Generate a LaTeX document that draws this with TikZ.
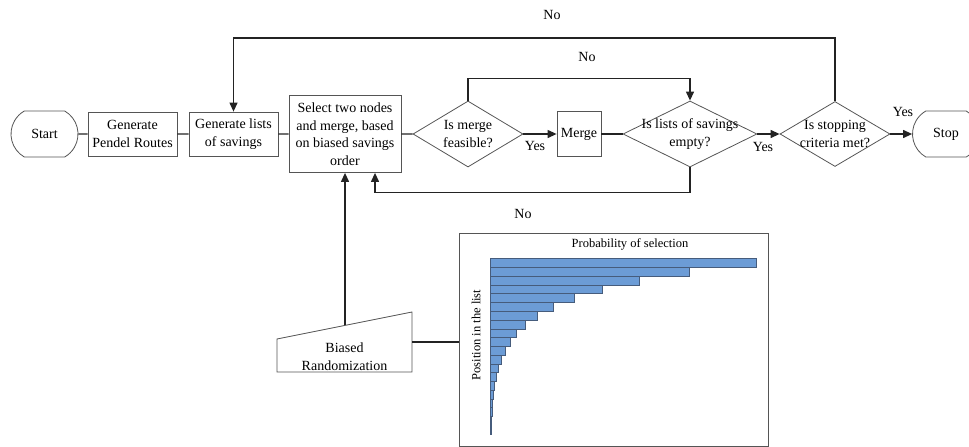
\documentclass[tikz,border=0pt]{standalone}
\usepackage{fontspec}
\setmainfont{Liberation Serif}
\usetikzlibrary{arrows.meta,shapes.geometric,shapes.misc,calc}
\definecolor{barfill}{RGB}{108,156,214}
\definecolor{baredge}{RGB}{70,92,124}
\definecolor{linegray}{RGB}{35,35,35}
\definecolor{boxgray}{RGB}{85,85,85}
\begin{document}
\begin{tikzpicture}[x=1pt,y=-1pt,>={Triangle[length=9pt,width=8pt]},font=\fontsize{14}{17.5}\selectfont,
    box/.style={draw=boxgray,line width=0.8pt,align=center,inner sep=0pt},
    term/.style={draw=boxgray,line width=0.8pt,rounded rectangle,rounded rectangle arc length=120,minimum width=67pt,minimum height=46pt,inner sep=0pt},
    decision/.style={draw=boxgray,line width=0.8pt,diamond,inner sep=0pt},
    flow/.style={draw=linegray,line width=1.2pt},
    lbl/.style={align=center,inner sep=0pt}]
    \useasboundingbox (0,0) rectangle (969,447);
    \clip (0,0) rectangle (969,447);

    % main line
    \node[term] (start) at (44.5,134) {Start};
    \node[box,minimum width=89pt,minimum height=44pt] (pendel) at (132.5,134) {Generate\\Pendel Routes};
    \node[box,minimum width=89pt,minimum height=44pt] (lists) at (233.5,134) {Generate lists\\of savings};
    \node[box,minimum width=112pt,minimum height=77pt] (sel) at (345,134) {Select two nodes\\and merge, based\\on biased savings\\order};
    \node[decision,minimum width=110pt,minimum height=66pt] (d1) at (468,134) {};
    \node[lbl] (d1t) at (d1) {Is merge\\feasible?};
    \node[box,minimum width=44pt,minimum height=45pt] (merge) at (579,134) {Merge};
    \node[decision,minimum width=134pt,minimum height=66pt] (d2) at (690,134) {};
    \node[lbl] (d2t) at (d2) {Is lists of savings\\empty?};
    \node[decision,minimum width=110pt,minimum height=65pt] (d3) at (835,134) {};
    \node[lbl] (d3t) at (d3) {Is stopping\\criteria met?};
    \node[term] (stop) at (946,134) {Stop};

    \draw[flow] (start) -- (pendel) -- (lists) -- (sel) -- (d1);
    \draw[flow,->] (d1) -- (merge);
    \draw[flow] (merge) -- (d2);
    \draw[flow,->] (d2) -- (d3);
    \draw[flow,->] (d3) -- (stop);

    % loops
    \coordinate (topy) at (0,38);
    \draw[flow,->] (d3.north) -- (d3.north |- topy) -| (lists.north);
    \draw[flow,->] (d1.north) -- ++(0,-22) -| (d2.north);
    \draw[flow,->] (d2.south) -- ++(0,25) -| ($(sel.south)+(30,0)$);

    \node[lbl] (no1) at (552,15) {No};
    \node[lbl] (no2) at (587,57) {No};
    \node[lbl] (no3) at (523,214) {No};
    \node[lbl] (yes1) at (535,146) {Yes};
    \node[lbl] (yes2) at (763,147) {Yes};
    \node[lbl] (yes3) at (903,112) {Yes};

    % biased randomization
    \draw[draw=boxgray,line width=0.8pt] (277,339) -- (412,312) -- (412,372) -- (277,372) -- cycle;
    \node[lbl] (rand) at (344.5,356.5) {Biased\\Randomization};
    \coordinate (randtop) at (345,325.4);
    \coordinate (randright) at (412,342);
    \draw[flow,->] (randtop) -- (sel.south);

    % chart
    \node[draw=boxgray,line width=0.8pt,minimum width=309pt,minimum height=213pt,inner sep=0pt] (chart) at (614,340) {};
    \draw[flow] (randright) -- (randright -| chart.west);
    \node[lbl,font=\fontsize{12.5}{15}\selectfont] (ctitle) at (630,244) {Probability of selection};
    \node[lbl,font=\fontsize{12.5}{15}\selectfont,rotate=90] (caxis) at (476,335) {Position in the list};
    \foreach \i in {0,...,19}
        \draw[draw=baredge,fill=barfill,line width=0.6pt] (490,{258.7+\i*8.77}) rectangle ++({266*0.75^\i},8.77);
    \draw[baredge,line width=0.8pt] (490,258) -- (490,434);
\end{tikzpicture}
\end{document}
